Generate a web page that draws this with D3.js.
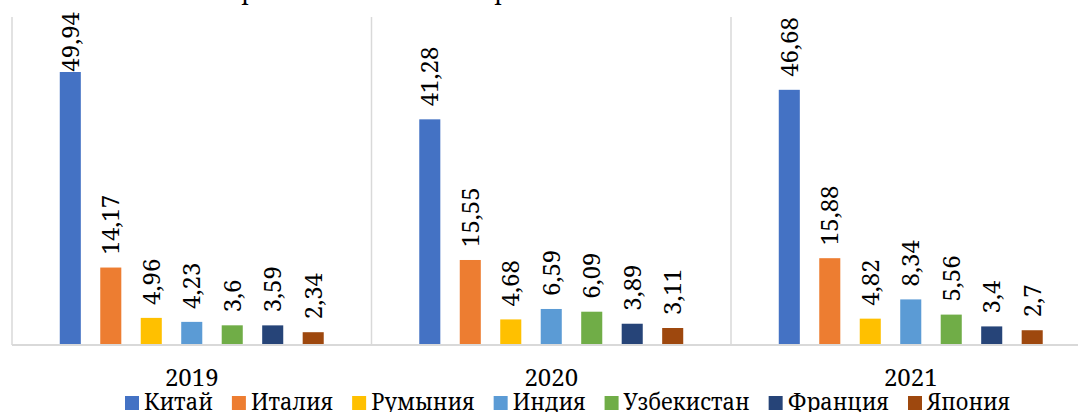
<!DOCTYPE html>
<html>
<head>
<meta charset="utf-8">
<script src="https://cdn.jsdelivr.net/npm/d3@7"></script>
<style>
  body { margin: 0; background: #fff; }
  svg { display: block; }
  text { font-family: "Noto Serif", "DejaVu Serif", serif; fill: #000; }
</style>
</head>
<body>
<script>
// data
const years = ["2019", "2020", "2021"];
const countries = ["Китай", "Италия", "Румыния", "Индия", "Узбекистан", "Франция", "Япония"];
const colors = ["#4472C4", "#ED7D31", "#FFC000", "#5B9BD5", "#70AD47", "#264478", "#9E480E"];
const v2019 = [49.94, 14.17, 4.96, 4.23, 3.6, 3.59, 2.34];
const v2020 = [41.28, 15.55, 4.68, 6.59, 6.09, 3.89, 3.11];
const v2021 = [46.68, 15.88, 4.82, 8.34, 5.56, 3.4, 2.7];
const values = [v2019, v2020, v2021];
const yDomain = [0, 60];

{
    const width = 1078, height = 412;
    const fs = 24;
    const ff = "\"Noto Serif\", \"DejaVu Serif\", serif";
    const plot = {left: 12, right: 1090.5, top: 17, bottom: 345};

    const svg = d3.select("body").append("svg")
        .attr("width", width)
        .attr("height", height);

    // title is cut off by the crop, only the descenders show
    const title = svg.append("g").attr("class", "title");
    [244, 497].forEach(function(x) {
        title.append("text")
            .attr("x", x - 3)
            .attr("y", -1)
            .style("font-size", fs + "px")
            .text("р");
    });

    const x0 = d3.scaleBand()
        .domain(years)
        .range([plot.left, plot.right])
        .padding(0);

    const x1 = d3.scaleBand()
        .domain(countries)
        .range([0, x0.bandwidth()])
        .paddingInner(0.48)
        .paddingOuter(1.18);

    const y = d3.scaleLinear()
        .domain(yDomain)
        .range([plot.bottom, plot.top]);

    // category separators
    const grid = svg.append("g").attr("class", "grid");
    const seps = years.map(function(d) { return x0(d); }).concat([x0(years[years.length - 1]) + x0.bandwidth()]);
    grid.selectAll("line.sep")
        .data(seps)
        .join("line")
        .attr("class", "sep")
        .attr("x1", function(d) { return d; })
        .attr("x2", function(d) { return d; })
        .attr("y1", plot.top)
        .attr("y2", plot.bottom)
        .attr("stroke", "#D9D9D9")
        .attr("stroke-width", 1.5);

    const groups = svg.append("g").selectAll("g.year")
        .data(years)
        .join("g")
        .attr("class", "year")
        .attr("transform", function(d) { return "translate(" + x0(d) + ",0)"; });

    groups.selectAll("rect")
        .data(function(d, i) {
            return countries.map(function(c, k) { return {c: c, k: k, v: values[i][k]}; });
        })
        .join("rect")
        .attr("x", function(d) { return x1(d.c); })
        .attr("width", x1.bandwidth())
        .attr("y", function(d) { return y(d.v); })
        .attr("height", function(d) { return y(0) - y(d.v); })
        .attr("fill", function(d) { return colors[d.k]; });

    // data labels, rotated, pushed down if they hit the top of the chart
    groups.selectAll("text.lbl")
        .data(function(d, i) {
            return countries.map(function(c, k) { return {c: c, k: k, v: values[i][k]}; });
        })
        .join("text")
        .attr("class", "lbl")
        .style("font-size", fs + "px")
        .attr("dy", "0.36em")
        .text(function(d) { return String(d.v).replace(".", ","); })
        .attr("transform", function(d) {
            const len = this.getComputedTextLength();
            let start = y(d.v) - 13;
            if (start - len < 12) start = 12 + len;
            const cx = x1(d.c) + x1.bandwidth() / 2;
            return "translate(" + cx + "," + start + ") rotate(-90)";
        });

    // baseline
    svg.append("line")
        .attr("x1", plot.left)
        .attr("x2", plot.right)
        .attr("y1", plot.bottom)
        .attr("y2", plot.bottom)
        .attr("stroke", "#D9D9D9")
        .attr("stroke-width", 2);

    // category axis labels
    const xAxis = svg.append("g")
        .attr("transform", "translate(0," + plot.bottom + ")")
        .call(d3.axisBottom(x0).tickSize(0).tickPadding(0));
    xAxis.select(".domain").remove();
    xAxis.selectAll("text")
        .attr("y", 41)
        .attr("dy", 0)
        .style("font-size", fs + "px")
        .style("font-family", ff)
        .attr("fill", "#000");

    // legend (Noto Serif is wider than Times, squeeze the names a little)
    const squeeze = 0.91;
    const legend = svg.append("g").attr("class", "legend");
    let lx = 125;
    countries.forEach(function(c, k) {
        legend.append("rect")
            .attr("x", lx)
            .attr("y", 396)
            .attr("width", 14)
            .attr("height", 14)
            .attr("fill", colors[k]);
        const t = legend.append("text")
            .attr("x", lx + 19)
            .attr("y", 410)
            .style("font-size", fs + "px")
            .text(c);
        const w = t.node().getComputedTextLength() * squeeze;
        t.attr("textLength", w).attr("lengthAdjust", "spacingAndGlyphs");
        lx += 19 + w + 19;
    });
}
</script>
</body>
</html>
